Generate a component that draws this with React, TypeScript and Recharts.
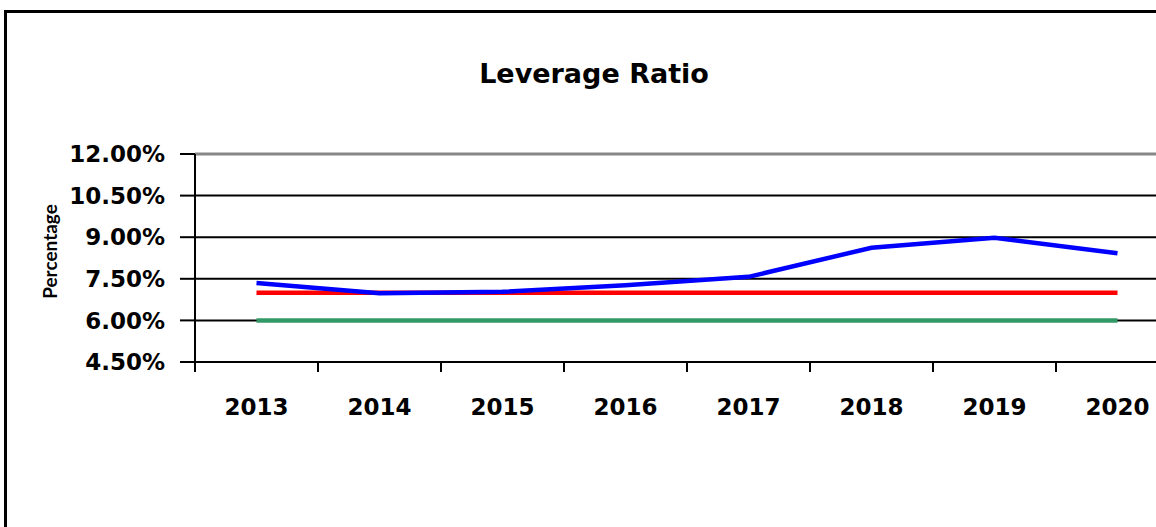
import { LineChart, Line, XAxis, YAxis, CartesianGrid, ReferenceLine } from "recharts";

const YEARS = ["2013", "2014", "2015", "2016", "2017", "2018", "2019", "2020"];
const LEVERAGE = [7.35, 6.98, 7.03, 7.27, 7.57, 8.62, 8.98, 8.42];
const BUFFER_REQ = [7.0, 7.0, 7.0, 7.0, 7.0, 7.0, 7.0, 7.0];
const MIN_REQ = [6.0, 6.0, 6.0, 6.0, 6.0, 6.0, 6.0, 6.0];
const Y_TICKS = [4.5, 6.0, 7.5, 9.0, 10.5, 12.0];

const data = YEARS.map((year, i) => ({
  year,
  leverage: LEVERAGE[i],
  buffer: BUFFER_REQ[i],
  minimum: MIN_REQ[i],
}));

const CHART_W = 1220;
const CHART_H = 527;
const Y_AXIS_W = 195;
const MARGIN = { top: 154, right: 41, bottom: 105, left: 0 };
const PLOT_W = CHART_W - MARGIN.left - MARGIN.right - Y_AXIS_W;
const HALF_BAND = PLOT_W / YEARS.length / 2;
const X_TICK_SIZE = 10;
const X_TICK_MARGIN = 27;

const TICK_FONT = { fill: "#000", fontSize: 23, fontWeight: "bold", fontFamily: "DejaVu Sans" };

function YearTick(props: any) {
  const { x, y, payload } = props;
  const top = y - X_TICK_MARGIN - X_TICK_SIZE;
  return (
    <g>
      <line x1={x - HALF_BAND} x2={x - HALF_BAND} y1={top} y2={top + X_TICK_SIZE} stroke="#000" strokeWidth={2} />
      <text x={x} y={y} dy="0.71em" textAnchor="middle" {...TICK_FONT}>
        {payload.value}
      </text>
    </g>
  );
}

export default function App() {
  return (
    <>
      <style>{`html,body{margin:0;padding:0;overflow:hidden;background:#fff}`}</style>
      <div style={{ position: "relative", width: 1156, height: 527, overflow: "hidden", background: "#fff" }}>
        <div
          style={{
            position: "absolute", left: 4, top: 10, width: 1300, height: 700,
            border: "3px solid #000", boxSizing: "border-box",
          }}
        />
        <div style={{ position: "absolute", left: 0, top: 0 }}>
          <LineChart width={CHART_W} height={CHART_H} data={data} margin={MARGIN}>
            <CartesianGrid vertical={false} stroke="#000" strokeWidth={2} />
            <ReferenceLine y={12} stroke="#878787" strokeWidth={3} />
            <XAxis
              dataKey="year"
              scale="point"
              padding={{ left: HALF_BAND, right: HALF_BAND }}
              interval={0}
              height={60}
              tickSize={X_TICK_SIZE}
              tickMargin={X_TICK_MARGIN}
              tickLine={false}
              axisLine={{ stroke: "#000", strokeWidth: 2 }}
              tick={<YearTick />}
            />
            <YAxis
              type="number"
              domain={[4.5, 12]}
              ticks={Y_TICKS}
              interval={0}
              width={Y_AXIS_W}
              tickSize={15}
              tickMargin={15}
              tickFormatter={(v: number) => v.toFixed(2) + "%"}
              tick={TICK_FONT}
              tickLine={{ stroke: "#000", strokeWidth: 2 }}
              axisLine={{ stroke: "#000", strokeWidth: 2 }}
            />
            <Line dataKey="minimum" name="Minimum" stroke="#339966" strokeWidth={4.5} dot={false} activeDot={false} isAnimationActive={false} />
            <Line dataKey="buffer" name="Buffer" stroke="#ff0000" strokeWidth={4.5} dot={false} activeDot={false} isAnimationActive={false} />
            <Line dataKey="leverage" name="Leverage Ratio" stroke="#0000ff" strokeWidth={4.5} dot={false} activeDot={false} isAnimationActive={false} />
          </LineChart>
        </div>
        <svg width={1156} height={527} style={{ position: "absolute", left: 0, top: 0, pointerEvents: "none" }}>
          <text x={594} y={83} textAnchor="middle" fontFamily="DejaVu Sans" fontWeight="bold" fontSize={27} fill="#000">
            Leverage Ratio
          </text>
          <text
            transform="translate(57 251.5) rotate(-90)"
            textAnchor="middle"
            fontFamily="Lato"
            fontWeight="bold"
            fontSize={19}
            fill="#000"
          >
            Percentage
          </text>
        </svg>
      </div>
    </>
  );
}
